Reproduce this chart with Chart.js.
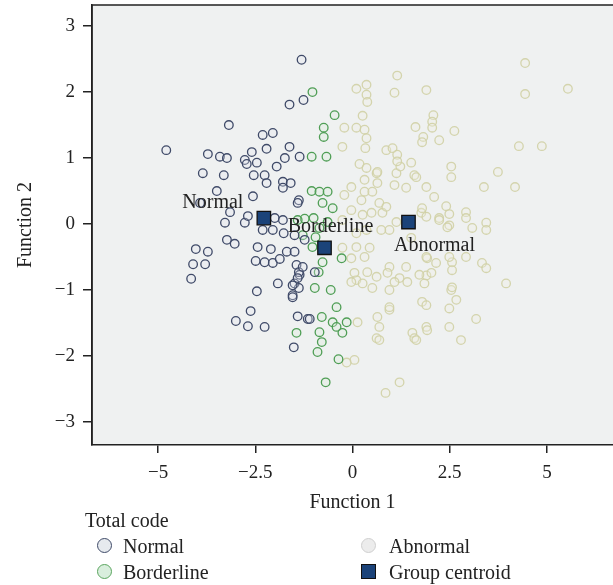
<!DOCTYPE html>
<html>
<head>
<meta charset="utf-8">
<script src="https://cdn.jsdelivr.net/npm/chart.js@4"></script>
<style>
  html, body { margin:0; padding:0; background:#fff; }
  #wrap { position:relative; width:613px; height:585px; font-family:'Liberation Serif', 'DejaVu Serif', serif; color:#222; }
  #legend { position:absolute; left:0; top:0; width:613px; height:585px; pointer-events:none; font-size:20px; }
  .lg { position:absolute; line-height:24px; white-space:nowrap; }
  .sw { position:absolute; box-sizing:border-box; }
</style>
</head>
<body>
<div id="wrap">
  <canvas id="c" width="613" height="585"></canvas>
  <div id="legend">
    <div class="lg" style="left:85px; top:508px;">Total code</div>
    <div class="sw" style="left:97px; top:538px; width:15px; height:15px; border-radius:50%; border:1.5px solid #3f4a68; background:#e6eaee;"></div>
    <div class="lg" style="left:123px; top:534px;">Normal</div>
    <div class="sw" style="left:97px; top:564px; width:15px; height:15px; border-radius:50%; border:1.5px solid #5aa55e; background:#d9eedd;"></div>
    <div class="lg" style="left:123px; top:560px;">Borderline</div>
    <div class="sw" style="left:361px; top:538px; width:15px; height:15px; border-radius:50%; border:1.5px solid #cfcfcf; background:#ececec;"></div>
    <div class="lg" style="left:389px; top:534px;">Abnormal</div>
    <div class="sw" style="left:361px; top:564px; width:15px; height:15px; border:1.5px solid #111; background:#1b4379;"></div>
    <div class="lg" style="left:389px; top:560px;">Group centroid</div>
  </div>
</div>
<script>
// discriminant scores: [function 1, function 2]
const normalPts = [
  [-1.31,2.49],[-1.62,1.81],[-1.26,1.88],[-3.18,1.50],[-4.79,1.12],[-2.31,1.35],[-2.05,1.38],[-3.72,1.06],
  [-3.41,1.02],[-3.23,1.00],[-2.77,0.97],[-2.59,1.09],[-2.46,0.93],[-2.21,1.14],[-1.62,1.17],[-1.74,1.00],
  [-1.36,1.02],[-3.85,0.77],[-3.31,0.74],[-2.54,0.74],[-2.26,0.74],[-1.95,0.87],[-2.21,0.62],[-1.79,0.64],
  [-1.59,0.62],[-3.49,0.50],[-2.56,0.42],[-3.92,0.32],[-1.38,0.36],[-3.15,0.18],[-3.28,0.02],[-2.77,0.02],
  [-2.69,0.12],[-2.31,-0.09],[-2.05,-0.09],[-2.00,0.09],[-1.79,0.06],[-1.77,-0.14],[-1.49,-0.17],[-3.23,-0.24],
  [-3.03,-0.30],[-4.03,-0.38],[-3.72,-0.42],[-2.44,-0.35],[-2.10,-0.38],[-1.69,-0.42],[-1.49,-0.42],[-4.10,-0.61],
  [-3.79,-0.61],[-2.49,-0.56],[-2.26,-0.58],[-2.05,-0.59],[-1.87,-0.53],[-1.44,-0.62],[-1.36,-0.77],[-4.15,-0.83],
  [-1.92,-0.90],[-1.49,-0.90],[-1.38,-0.97],[-2.46,-1.02],[-1.54,-1.08],[-2.62,-1.32],[-3.00,-1.47],[-2.69,-1.55],
  [-2.26,-1.56],[-1.41,-1.40],[-1.15,-1.44],[-1.51,-1.87],[-2.72,0.91],[-1.79,0.55],[-1.41,0.32],[-1.38,-0.73],
  [-1.41,-0.82],[-0.97,-0.73],[-1.54,-0.93],[-1.54,-1.11],[-1.10,-1.44],[-1.23,-0.24],[-1.28,-0.65]
];
const borderlinePts = [
  [-1.03,2.00],[-0.46,1.65],[-0.74,1.46],[-0.74,1.32],[-1.05,1.02],[-0.67,1.02],[-1.05,0.50],[-0.85,0.49],
  [-0.64,0.49],[-0.77,0.32],[-0.51,0.24],[-1.23,0.08],[-1.41,0.06],[-0.64,0.03],[-0.85,-0.06],[-1.28,-0.17],
  [-1.03,-0.35],[-0.77,-0.58],[-0.87,-0.73],[-0.28,-0.52],[-0.97,-0.97],[-0.56,-1.00],[-0.41,-1.26],[-0.79,-1.41],
  [-0.51,-1.49],[-0.15,-1.49],[-0.41,-1.56],[-0.85,-1.64],[-0.26,-1.65],[-1.44,-1.65],[-0.79,-1.79],[-0.90,-1.94],
  [-0.36,-2.05],[-0.69,-2.40],[-1.00,0.09],[-0.95,-0.20]
];
const abnormalPts = [
  [1.15,2.25],[0.10,2.05],[0.36,2.11],[0.36,1.96],[0.38,1.85],[1.08,1.99],[1.90,2.03],[0.26,1.64],
  [-0.21,1.46],[0.10,1.46],[0.31,1.43],[0.36,1.30],[-0.26,1.17],[0.33,1.15],[0.87,1.12],[1.03,1.15],
  [1.15,1.05],[1.62,1.47],[1.82,1.32],[1.79,1.24],[0.18,0.91],[0.36,0.85],[0.62,0.77],[0.64,0.62],
  [1.13,0.77],[1.23,0.87],[1.51,0.93],[1.59,0.74],[1.08,0.59],[1.38,0.55],[1.90,0.56],[0.31,0.49],
  [-0.21,0.44],[-0.03,0.21],[0.26,0.14],[0.49,0.17],[0.69,0.32],[0.77,0.17],[1.13,0.03],[1.77,0.17],
  [-0.26,0.06],[4.44,2.44],[5.54,2.05],[4.44,1.97],[2.08,1.65],[2.05,1.55],[2.05,1.46],[2.23,1.27],
  [2.62,1.41],[4.28,1.18],[4.87,1.18],[2.54,0.87],[2.54,0.71],[3.74,0.79],[3.38,0.56],[4.18,0.56],
  [2.10,0.41],[1.79,0.24],[2.41,0.27],[2.49,0.15],[2.92,0.18],[2.92,0.09],[3.44,0.02],[2.23,0.09],
  [2.49,-0.02],[0.10,-0.85],[0.38,-0.73],[-0.03,-0.88],[0.51,-0.97],[0.13,-1.49],[0.64,-1.41],[0.69,-1.56],
  [0.95,-1.30],[0.62,-1.73],[0.05,-2.06],[-0.15,-2.10],[1.21,-2.40],[0.85,-2.56],[0.95,-0.65],[1.21,-0.82],
  [1.08,-0.88],[1.41,-0.88],[1.54,-1.65],[1.59,-1.73],[1.90,-1.56],[1.79,-1.18],[1.90,-0.78],[1.92,-0.52],
  [2.03,-0.74],[1.85,-0.90],[1.90,-1.23],[1.92,-1.61],[2.56,-0.58],[2.56,-0.70],[2.54,-1.00],[2.67,-1.15],
  [2.49,-1.28],[2.49,-1.56],[2.79,-1.76],[3.18,-1.44],[3.33,-0.59],[3.44,-0.67],[3.95,-0.90],[3.08,-0.06],
  [3.44,-0.09],[0.69,-1.76],[1.64,-1.76],[0.95,-1.26],[0.95,-1.00],[0.23,0.36],[0.51,0.49],[0.87,0.26],
  [0.95,-0.09],[0.74,-0.09],[0.36,-0.09],[0.10,-0.14],[-0.26,-0.36],[0.10,-0.35],[0.44,-0.36],[-0.03,-0.52],
  [0.31,-0.50],[1.51,-0.21],[1.90,0.11],[2.23,0.06],[2.44,-0.05],[1.90,-0.50],[2.15,-0.59],[1.72,-0.77],
  [1.38,-0.65],[0.90,-0.74],[0.62,-0.80],[2.49,-0.50],[2.92,-0.50],[0.05,-0.74],[0.26,-0.90],[2.56,-0.96],
  [0.31,0.67],[-0.03,0.56],[1.15,0.95],[0.64,0.79],[1.64,0.71]
];
const centroidNames = ['Normal', 'Borderline', 'Abnormal'];
const centroidPts = [[-2.28,0.09],[-0.72,-0.36],[1.44,0.03]];

const xTicks = [-5, -2.5, 0, 2.5, 5];
const yTicks = [-3, -2, -1, 0, 1, 2, 3];

const toXY = a => a.map(([x, y]) => ({ x, y }));
const minus = v => String(v).replace('-', '\u2212');
const serif = "'Liberation Serif', 'DejaVu Serif', serif";

// label offsets (px) relative to each centroid
const labelOffsets = [[-51, -15], [6, -21], [26, 24]];

const bgPlugin = {
  id: 'plotBg',
  beforeDraw(chart) {
    const { ctx, chartArea: a } = chart;
    ctx.save();
    ctx.fillStyle = '#eff1f1';
    ctx.fillRect(a.left, a.top, a.right - a.left, a.bottom - a.top);
    ctx.restore();
  },
  afterDraw(chart) {
    const { ctx, chartArea: a } = chart;
    ctx.save();
    ctx.strokeStyle = '#222';
    ctx.lineWidth = 1.5;
    ctx.beginPath();
    ctx.moveTo(a.left, a.bottom);
    ctx.lineTo(a.left, a.top);
    ctx.lineTo(a.right, a.top);
    ctx.stroke();
    ctx.restore();
  }
};

const labelPlugin = {
  id: 'centroidLabels',
  afterDatasetsDraw(chart) {
    const { ctx, scales } = chart;
    ctx.save();
    ctx.font = '20px ' + serif;
    ctx.fillStyle = '#222';
    ctx.textAlign = 'center';
    ctx.textBaseline = 'middle';
    centroidPts.forEach(([x, y], i) => {
      const px = scales.x.getPixelForValue(x) + labelOffsets[i][0];
      const py = scales.y.getPixelForValue(y) + labelOffsets[i][1];
      ctx.fillText(centroidNames[i], px, py);
    });
    ctx.restore();
  }
};

const ptOpts = (stroke, fill) => ({
  pointRadius: 4.3, pointBorderWidth: 1.3, pointBorderColor: stroke, pointBackgroundColor: fill, showLine: false
});

new Chart(document.getElementById('c'), {
  type: 'scatter',
  data: {
    datasets: [
      { label: 'Group centroid', data: toXY(centroidPts), pointStyle: 'rect', pointRadius: 9.5, pointBorderWidth: 1.3,
        pointBorderColor: '#111', pointBackgroundColor: '#1b4379', order: -1 },
      { label: 'Normal', data: toXY(normalPts), ...ptOpts('#3f4a68', 'rgba(225,230,238,0.3)') },
      { label: 'Borderline', data: toXY(borderlinePts), ...ptOpts('#4f9e55', 'rgba(215,235,215,0.3)') },
      { label: 'Abnormal', data: toXY(abnormalPts), ...ptOpts('rgba(208,208,165,0.9)', 'rgba(240,240,225,0.3)') },
    ]
  },
  options: {
    responsive: false, animation: false, devicePixelRatio: 1,
    layout: { autoPadding: false, padding: { top: 5, right: 0, bottom: 70, left: 0 } },
    plugins: { legend: { display: false }, tooltip: { enabled: false } },
    scales: {
      x: {
        type: 'linear', min: -6.7, max: 6.7,
        afterBuildTicks: s => { s.ticks = xTicks.map(v => ({ value: v })); },
        afterFit: s => { s.height = 70; s.paddingLeft = 0; s.paddingRight = 0; },
        ticks: { color: '#222', font: { family: serif, size: 19 }, padding: 9, callback: v => minus(v), maxRotation: 0 },
        grid: { drawOnChartArea: false, drawTicks: true, tickLength: 8, color: '#222', lineWidth: 1.5 },
        border: { display: true, color: '#222', width: 1.5 },
        title: { display: true, text: 'Function 1', color: '#222', font: { family: serif, size: 20 }, padding: { top: 0, bottom: 0 } }
      },
      y: {
        type: 'linear', min: -3.35, max: 3.32,
        afterBuildTicks: s => { s.ticks = yTicks.map(v => ({ value: v })); },
        afterFit: s => { s.width = 92; s.paddingTop = 0; s.paddingBottom = 0; },
        ticks: { color: '#222', font: { family: serif, size: 19 }, padding: 8, callback: v => minus(v) },
        grid: { drawOnChartArea: false, drawTicks: true, tickLength: 9, color: '#222', lineWidth: 1.5 },
        border: { display: true, color: '#222', width: 1.5 },
        title: { display: true, text: 'Function 2', color: '#222', font: { family: serif, size: 20 }, padding: { top: 14, bottom: 0 } }
      }
    }
  },
  plugins: [bgPlugin, labelPlugin]
});
</script>
</body>
</html>
